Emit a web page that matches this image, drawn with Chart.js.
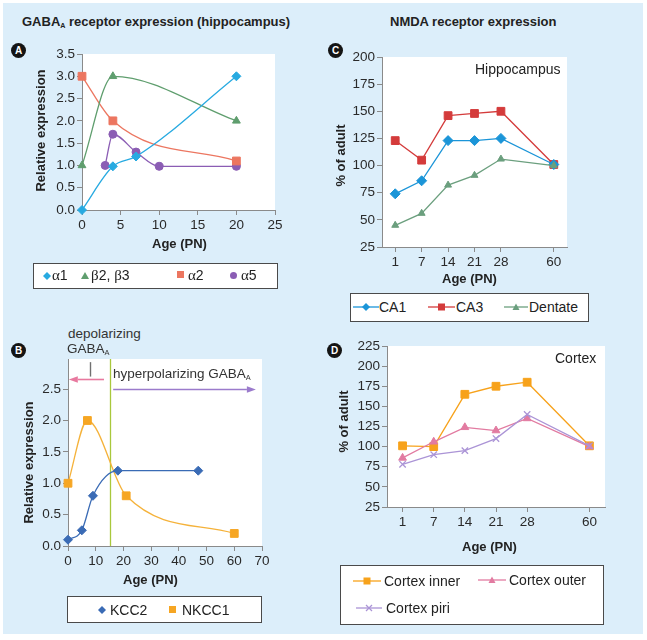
<!DOCTYPE html>
<html><head><meta charset="utf-8">
<script src="https://cdn.jsdelivr.net/npm/chart.js@4/dist/chart.umd.min.js"></script>
<style>
html,body{margin:0;padding:0;background:#fff;}
#page{position:relative;width:647px;height:640px;overflow:hidden;font-family:"Liberation Sans",Arial,Helvetica,sans-serif;color:#222;}
#bg{position:absolute;left:3px;top:3px;width:640px;height:631px;background:#dceefa;}
.t{position:absolute;white-space:nowrap;line-height:1;}
.b{font-weight:bold;font-size:13px;}
.rot{transform:rotate(-90deg);text-align:center;}
.circ{position:absolute;width:15px;height:15px;border-radius:50%;background:#141414;color:#fff;font-weight:bold;font-size:10px;line-height:15px;text-align:center;}
canvas{position:absolute;}
.lbox{position:absolute;background:#fff;border:1px solid #4a4a4a;box-sizing:border-box;}
.li{position:absolute;font-size:14px;line-height:1;white-space:nowrap;}
.gr{font-family:"Liberation Serif","DejaVu Serif",serif;font-size:15px;}
svg{position:absolute;overflow:visible;}
sub{font-size:0.55em;vertical-align:baseline;position:relative;top:0.25em;}
</style></head>
<body>
<div id="page">
<div id="bg"></div>

<!-- titles -->
<div class="t b" style="left:22px;top:15px;">GABA<sub>A</sub> receptor expression (hippocampus)</div>
<div class="t b" style="left:390px;top:15px;">NMDA receptor expression</div>

<div class="circ" style="left:11px;top:43px;">A</div>
<div class="circ" style="left:328px;top:43px;">C</div>
<div class="circ" style="left:11px;top:343px;">B</div>
<div class="circ" style="left:327px;top:343px;">D</div>

<canvas id="cA" width="270" height="215" style="left:20px;top:40px;"></canvas>
<canvas id="cC" width="250" height="245" style="left:330px;top:45px;"></canvas>
<canvas id="cB" width="262" height="245" style="left:14px;top:345px;"></canvas>
<canvas id="cD" width="290" height="225" style="left:330px;top:334px;"></canvas>

<!-- axis titles -->
<div class="t b rot" style="left:-40px;top:124px;width:160px;">Relative expression</div>
<div class="t b" style="left:152px;top:237px;">Age (PN)</div>
<div class="t b rot" style="left:280px;top:149px;width:120px;">% of adult</div>
<div class="t b" style="left:442px;top:272px;">Age (PN)</div>
<div class="t b rot" style="left:-52px;top:456px;width:160px;">Relative expression</div>
<div class="t b" style="left:123px;top:573px;">Age (PN)</div>
<div class="t b rot" style="left:283px;top:415px;width:120px;">% of adult</div>
<div class="t b" style="left:462px;top:540px;">Age (PN)</div>

<!-- in-plot labels -->
<div class="t" style="left:475px;top:62px;font-size:14px;">Hippocampus</div>
<div class="t" style="left:555px;top:351px;font-size:14px;">Cortex</div>
<div class="t" style="left:68px;top:327px;font-size:13.5px;color:#333;">depolarizing</div>
<div class="t" style="left:67px;top:342px;font-size:13.5px;color:#333;">GABA<sub>A</sub></div>
<div class="t" style="left:113px;top:367px;font-size:13.5px;color:#333;">hyperpolarizing GABA<sub>A</sub></div>

<!-- legend A -->
<div class="lbox" style="left:33px;top:263px;width:245px;height:26px;"></div>
<svg style="left:43px;top:272px;" width="8" height="8"><polygon points="4,0 8,4 4,8 0,4" fill="#27aae1"/></svg>
<div class="li" style="left:52px;top:268px;"><span class="gr">α</span>1</div>
<svg style="left:81px;top:272px;" width="8" height="8"><polygon points="4,0 8,7 0,7" fill="#5f9e6e"/></svg>
<div class="li" style="left:91px;top:268px;"><span class="gr">β</span>2, <span class="gr">β</span>3</div>
<svg style="left:177px;top:271px;" width="8" height="8"><rect width="7" height="7" fill="#ec7660"/></svg>
<div class="li" style="left:188px;top:268px;"><span class="gr">α</span>2</div>
<svg style="left:230px;top:272px;" width="8" height="8"><circle cx="3.5" cy="3.5" r="3.5" fill="#8b5db4"/></svg>
<div class="li" style="left:241px;top:268px;"><span class="gr">α</span>5</div>

<!-- legend C -->
<div class="lbox" style="left:350px;top:293px;width:239px;height:29px;"></div>
<svg style="left:353px;top:303px;" width="26" height="8"><line x1="0" y1="4" x2="26" y2="4" stroke="#1b95d8" stroke-width="1.3"/><polygon points="13,0 17,4 13,8 9,4" fill="#1b95d8"/></svg>
<div class="li" style="left:379px;top:300px;">CA1</div>
<svg style="left:428px;top:303px;" width="27" height="8"><line x1="0" y1="4" x2="27" y2="4" stroke="#d43b3b" stroke-width="1.3"/><rect x="10" y="0.5" width="7" height="7" fill="#d43b3b"/></svg>
<div class="li" style="left:456px;top:300px;">CA3</div>
<svg style="left:504px;top:303px;" width="24" height="8"><line x1="0" y1="4" x2="24" y2="4" stroke="#6b9f7e" stroke-width="1.3"/><polygon points="12,0.5 15.5,7 8.5,7" fill="#6b9f7e"/></svg>
<div class="li" style="left:529px;top:300px;">Dentate</div>

<!-- legend B -->
<div class="lbox" style="left:67px;top:596px;width:195px;height:27px;"></div>
<svg style="left:98px;top:606px;" width="8" height="8"><polygon points="4,0 8,4 4,8 0,4" fill="#3a6bb5"/></svg>
<div class="li" style="left:110px;top:603px;">KCC2</div>
<svg style="left:169px;top:606px;" width="8" height="8"><rect width="7" height="7" fill="#f6a623"/></svg>
<div class="li" style="left:182px;top:603px;">NKCC1</div>

<!-- legend D -->
<div class="lbox" style="left:340px;top:565px;width:264px;height:60px;"></div>
<svg style="left:353px;top:577px;" width="28" height="8"><line x1="0" y1="4" x2="28" y2="4" stroke="#f7a21b" stroke-width="1.3"/><rect x="10.5" y="0.5" width="7" height="7" fill="#f7a21b"/></svg>
<div class="li" style="left:384px;top:574px;">Cortex inner</div>
<svg style="left:478px;top:576px;" width="28" height="8"><line x1="0" y1="4" x2="28" y2="4" stroke="#e27ba1" stroke-width="1.3"/><polygon points="14,0.5 17.5,7 10.5,7" fill="#e27ba1"/></svg>
<div class="li" style="left:509px;top:573px;">Cortex outer</div>
<svg style="left:356px;top:604px;" width="26" height="8"><line x1="0" y1="4" x2="26" y2="4" stroke="#ab94d6" stroke-width="1.3"/><line x1="10" y1="1" x2="16" y2="7" stroke="#ab94d6" stroke-width="1.2"/><line x1="16" y1="1" x2="10" y2="7" stroke="#ab94d6" stroke-width="1.2"/></svg>
<div class="li" style="left:386px;top:601px;">Cortex piri</div>
</div>

<script>
// ---------- DATA ----------
// Panel A: GABA-A subunits (hippocampus)
const aAlpha1Age = [0, 4, 7, 20];
const aAlpha1Val = [0, 0.98, 1.2, 3.0];
const aBetaAge   = [0, 4, 20];
const aBetaVal   = [1.0, 3.0, 2.0];
const aAlpha2Age = [0, 4, 20];
const aAlpha2Val = [3.0, 2.0, 1.1];
const aAlpha5Age = [3, 4, 7, 10, 20];
const aAlpha5Val = [1.0, 1.7, 1.3, 0.98, 0.98];
// Panel B: chloride transporters
const bKccAge  = [0, 5, 9, 18, 47];
const bKccVal  = [0.1, 0.25, 0.8, 1.2, 1.2];
const bNkccAge = [0, 7, 21, 60];
const bNkccVal = [1.0, 2.0, 0.8, 0.2];
// Panel B annotations (data coordinates)
const bSwitchAge = 15;
const bDepolArrow = {y: 2.66, from: 13, to: 0.3};
const bHyperArrow = {y: 2.5, from: 16.3, to: 67.8};
const bPointer = {x: 7.8, top: 2.93, bottom: 2.7};
// Panels C and D: NMDA receptor (% of adult)
const ageLabels = ['1', '7', '14', '21', '28', '60'];
const ageTickLabels = ['1', '7', '14', '21', '28', '', '60'];
const ca1 = [74, 86, 123, 123, 125, 101];
const ca3 = [123, 105, 146, 148, 150, 101];
const dentate = [45, 56, 82, 91, 106, 100];
const cortexInner = [101, 100, 165, 175, 180, 101];
const cortexOuter = [86, 106, 124, 120, 135, 100];
const cortexPiri = [78, 90, 95, 110, 140, 101];

// ---------- HELPERS ----------
const FF = '"Liberation Sans", Arial, Helvetica, sans-serif';
const AX = '#8a8a8a';
const TC = '#2a2a2a';
Chart.defaults.font.family = FF;
Chart.defaults.animation = false;
Chart.defaults.plugins.legend.display = false;
Chart.defaults.plugins.tooltip.enabled = false;

const plotBg = {id: 'plotBg', beforeDraw(c) {
  const a = c.chartArea, ctx = c.ctx;
  ctx.save(); ctx.fillStyle = '#ffffff';
  ctx.fillRect(a.left, a.top, a.right - a.left, a.bottom - a.top);
  ctx.restore();
}};

const xy = (xs, ys) => xs.map((x, i) => ({x: x, y: ys[i]}));
const tickFont = {family: FF, size: 13.5};

function linAxis(min, max, step, fmt, fit, isX) {
  return {
    type: 'linear', min: min, max: max,
    ticks: {stepSize: step, color: TC, font: tickFont, padding: 2, callback: fmt, maxRotation: 0, autoSkip: false, includeBounds: false},
    grid: {drawOnChartArea: false, drawTicks: true, tickLength: 5, color: AX},
    border: {display: true, color: AX, width: 1},
    afterFit: isX ? (s => { s.height = fit; }) : (s => { s.width = fit; })
  };
}
function catAxis(fit) {
  return {
    type: 'category', labels: ageTickLabels, offset: true,
    ticks: {color: TC, font: tickFont, padding: 2, maxRotation: 0, autoSkip: false},
    grid: {offset: false, drawOnChartArea: false, drawTicks: true, tickLength: 5, color: AX,
      tickColor: c => (c.tick && c.tick.label === '') ? 'rgba(0,0,0,0)' : AX},
    border: {display: true, color: AX, width: 1},
    afterFit: s => { s.height = fit; }
  };
}
function ds(data, color, style, r, smooth, extra) {
  return Object.assign({
    data: data, borderColor: color, backgroundColor: color,
    pointBackgroundColor: color, pointBorderColor: color,
    pointStyle: style, pointRadius: r, pointBorderWidth: 1,
    borderWidth: 1.3, fill: false, clip: false,
    tension: smooth ? 0.4 : 0,
    cubicInterpolationMode: smooth ? 'monotone' : 'default'
  }, extra || {});
}

// ---------- PANEL A ----------
new Chart(document.getElementById('cA'), {
  type: 'line',
  data: {datasets: [
    ds(xy(aAlpha1Age, aAlpha1Val), '#27aae1', 'rectRot', 4.5, true),
    ds(xy(aBetaAge, aBetaVal), '#5f9e6e', 'triangle', 4.5, true),
    ds(xy(aAlpha2Age, aAlpha2Val), '#ec7660', 'rect', 5.5, true),
    ds(xy(aAlpha5Age, aAlpha5Val), '#8b5db4', 'circle', 4, true)
  ]},
  options: {
    responsive: false,
    layout: {padding: {left: 0, top: 14, right: 15, bottom: 0}},
    scales: {
      x: linAxis(0, 25, 5, v => v, 45, true),
      y: linAxis(0, 3.5, 0.5, v => v.toFixed(1), 62, false)
    }
  },
  plugins: [plotBg]
});

// ---------- PANEL B ----------
function drawArrow(ctx, x1, y, x2, color) {
  const dir = Math.sign(x2 - x1), hl = 9, hw = 3.2;
  ctx.strokeStyle = color; ctx.fillStyle = color; ctx.lineWidth = 1.6;
  ctx.beginPath(); ctx.moveTo(x1, y); ctx.lineTo(x2 - dir * hl, y); ctx.stroke();
  ctx.beginPath(); ctx.moveTo(x2, y); ctx.lineTo(x2 - dir * hl, y - hw); ctx.lineTo(x2 - dir * hl, y + hw); ctx.closePath(); ctx.fill();
}
const bAnno = {id: 'bAnno', beforeDatasetsDraw(c) {
  const ctx = c.ctx, xs = c.scales.x, ys = c.scales.y, a = c.chartArea;
  ctx.save();
  const sx = Math.round(xs.getPixelForValue(bSwitchAge)) + 0.5;
  ctx.strokeStyle = '#a9c83c'; ctx.lineWidth = 1.3;
  ctx.beginPath(); ctx.moveTo(sx, a.top); ctx.lineTo(sx, a.bottom); ctx.stroke();
  const px = Math.round(xs.getPixelForValue(bPointer.x)) + 0.5;
  ctx.strokeStyle = '#707070'; ctx.lineWidth = 1.4;
  ctx.beginPath(); ctx.moveTo(px, ys.getPixelForValue(bPointer.top)); ctx.lineTo(px, ys.getPixelForValue(bPointer.bottom)); ctx.stroke();
  drawArrow(ctx, xs.getPixelForValue(bDepolArrow.from), Math.round(ys.getPixelForValue(bDepolArrow.y)) + 0.5, xs.getPixelForValue(bDepolArrow.to), '#e8799f');
  drawArrow(ctx, xs.getPixelForValue(bHyperArrow.from), Math.round(ys.getPixelForValue(bHyperArrow.y)) + 0.5, xs.getPixelForValue(bHyperArrow.to), '#9b7bcc');
  ctx.restore();
}};
new Chart(document.getElementById('cB'), {
  type: 'line',
  data: {datasets: [
    ds(xy(bKccAge, bKccVal), '#3a6bb5', 'rectRot', 4.5, true),
    ds(xy(bNkccAge, bNkccVal), '#f6a623', 'rect', 5.5, true, {borderColor: '#f5b23a'})
  ]},
  options: {
    responsive: false,
    layout: {padding: {left: 0, top: 14, right: 14, bottom: 0}},
    scales: {
      x: linAxis(0, 70, 10, v => v, 44, true),
      y: linAxis(0, 2.98, 0.5, v => v.toFixed(1), 54, false)
    }
  },
  plugins: [plotBg, bAnno]
});

// ---------- PANEL C ----------
const catData = vals => ageLabels.map((a, i) => ({x: a, y: vals[i]}));
new Chart(document.getElementById('cC'), {
  type: 'line',
  data: {labels: ageTickLabels, datasets: [
    ds(catData(dentate), '#6b9f7e', 'triangle', 4, false),
    ds(catData(ca1), '#1b95d8', 'rectRot', 5, false),
    ds(catData(ca3), '#d43b3b', 'rect', 5.5, false)
  ]},
  options: {
    responsive: false,
    layout: {padding: {left: 0, top: 12, right: 13, bottom: 0}},
    scales: {
      x: catAxis(43),
      y: linAxis(25, 200, 25, v => v, 52, false)
    }
  },
  plugins: [plotBg]
});

// ---------- PANEL D ----------
new Chart(document.getElementById('cD'), {
  type: 'line',
  data: {labels: ageTickLabels, datasets: [
    ds(catData(cortexPiri), '#ab94d6', 'crossRot', 4.5, false, {pointBorderWidth: 1.3}),
    ds(catData(cortexOuter), '#e27ba1', 'triangle', 4.5, false),
    ds(catData(cortexInner), '#f7a21b', 'rect', 5.5, false)
  ]},
  options: {
    responsive: false,
    layout: {padding: {left: 0, top: 12, right: 15, bottom: 0}},
    scales: {
      x: catAxis(52),
      y: linAxis(25, 225, 25, v => v, 57, false)
    }
  },
  plugins: [plotBg]
});
</script>
</body></html>
